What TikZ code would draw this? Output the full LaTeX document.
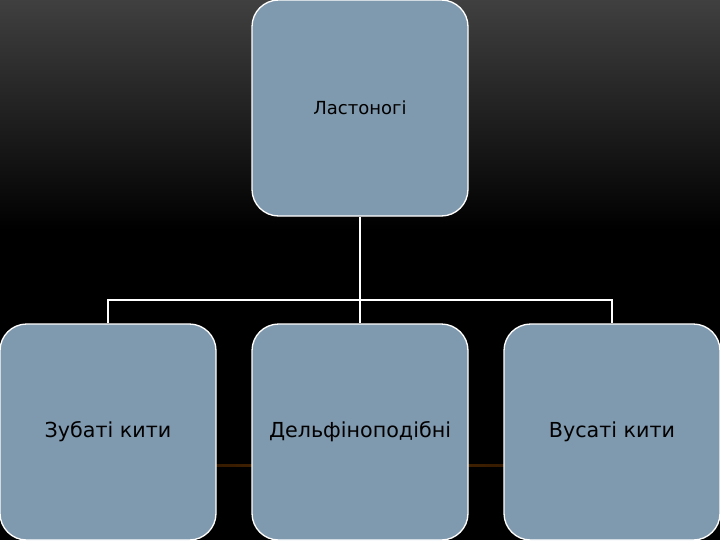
\documentclass[tikz,border=0pt]{standalone}
\usepackage{fontspec}
\setmainfont{DejaVu Sans}
\begin{document}
\begin{tikzpicture}[x=0.75pt,y=-0.75pt,
  box/.style={draw=white,line width=1pt,fill=boxc,rounded corners=20pt,minimum width=162pt,minimum height=162pt,inner sep=0pt},
  con/.style={draw=white,line width=1.5pt}]
\definecolor{boxc}{HTML}{7F99AE}
\useasboundingbox (0,0) rectangle (720,540);
\shade[top color=black!75,bottom color=black] (0,0) rectangle (720,230);
\fill[black] (0,230) rectangle (720,540);
\shade[left color=black,right color=orange!35!black] (0,464) rectangle (360,466);
\shade[right color=black,left color=orange!35!black] (360,464) rectangle (720,466);
\node[box,font=\fontsize{13.5}{16}\selectfont] (top) at (360,108) {Ластоногі};
\node[box,font=\fontsize{15.5}{18}\selectfont] (a) at (108,432) {Зубаті кити};
\node[box,font=\fontsize{15.5}{18}\selectfont] (b) at (360,432) {Дельфіноподібні};
\node[box,font=\fontsize{15.5}{18}\selectfont] (c) at (612,432) {Вусаті кити};
\coordinate (j) at (360,300);
\draw[con] (top.south) -- (j);
\draw[con] (a.north) |- (j) -| (c.north);
\draw[con] (j) -- (b.north);
\end{tikzpicture}
\end{document}
